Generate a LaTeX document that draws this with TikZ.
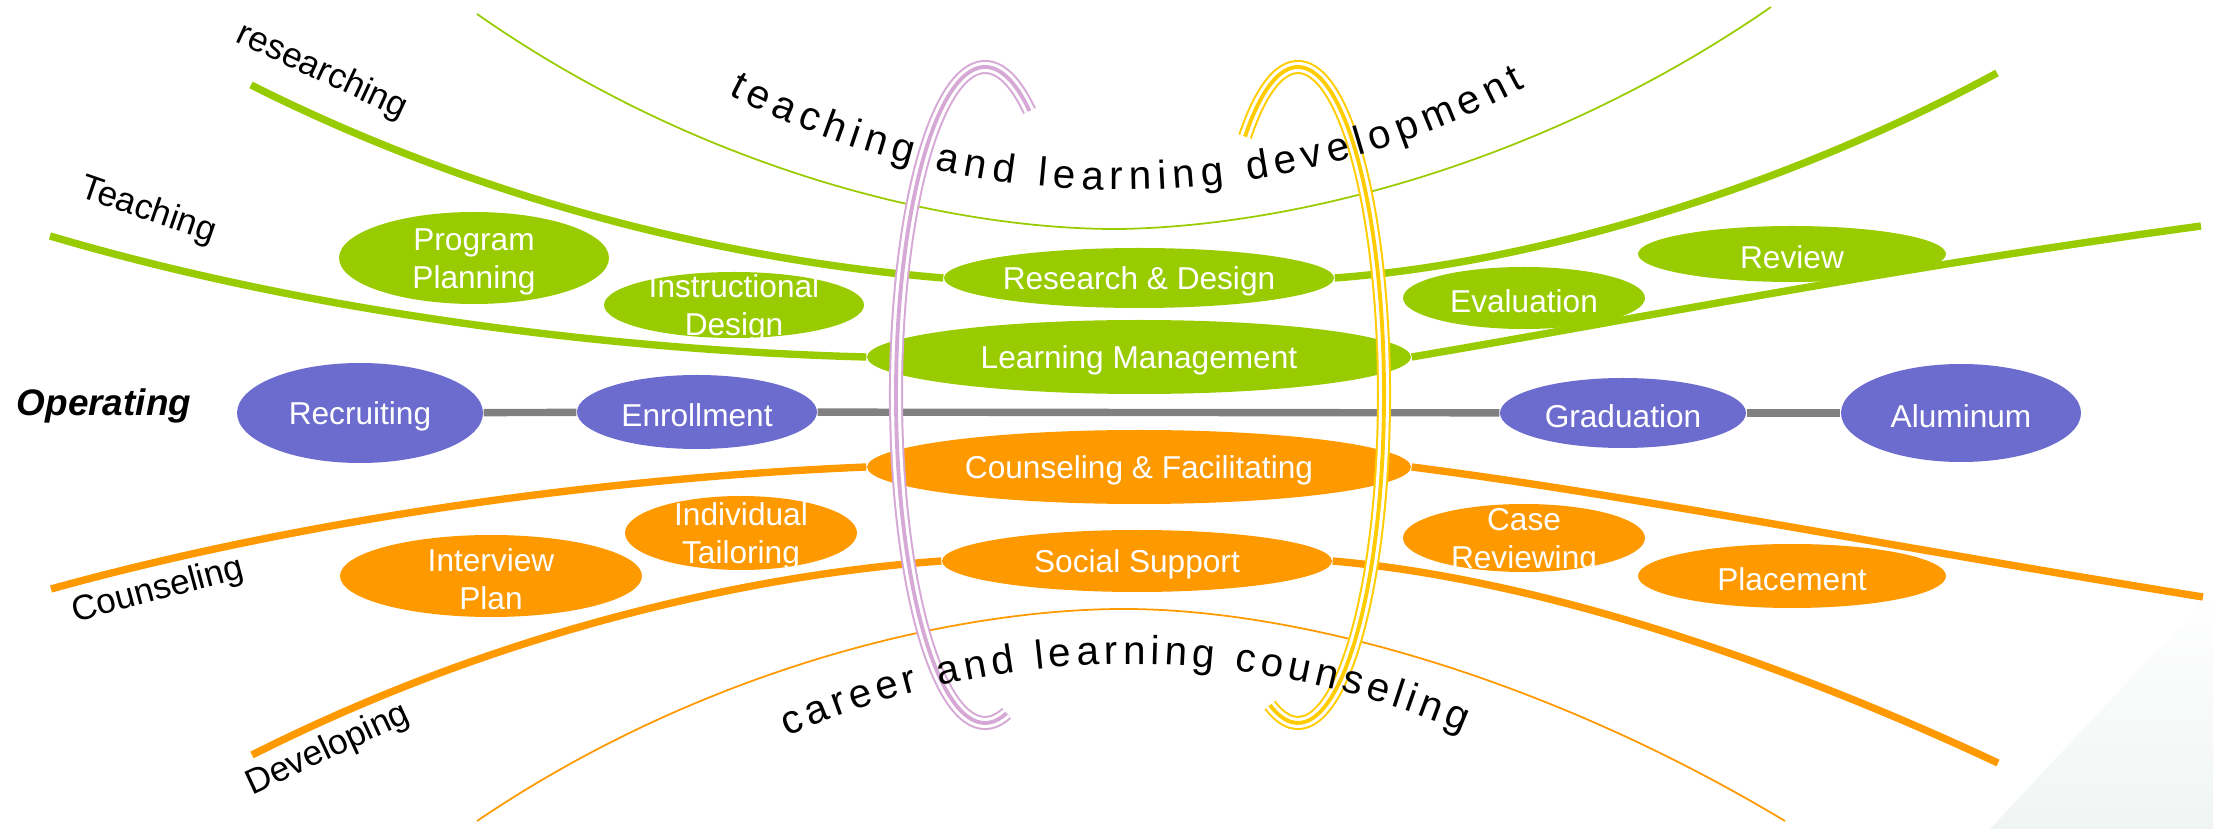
\documentclass[tikz,border=0pt]{standalone}
\usepackage{fontspec}
\setmainfont{Liberation Sans}
\usepackage{tikz}
\usetikzlibrary{shapes.geometric,decorations.text}

\definecolor{leafgreen}{RGB}{153,204,0}
\definecolor{amber}{RGB}{255,153,0}
\definecolor{opblue}{RGB}{108,108,206}
\definecolor{ringpink}{RGB}{214,168,214}
\definecolor{ringgold}{RGB}{255,204,0}
\definecolor{railgray}{RGB}{128,128,128}
\definecolor{bgtint}{RGB}{240,245,243}

\newcommand{\arcfont}{\fontsize{11.5}{13}\selectfont}

\begin{document}
\begin{tikzpicture}[
		blob/.style={ellipse, inner sep=0pt, draw=none},
		inblob/.style={text=white, align=center, inner sep=0pt, yshift=-1pt, font=\fontsize{9}{10.8}\selectfont},
		tag/.style={font=\fontsize{10}{12}\selectfont},
		thickline/.style={line width=2.1pt},
		thinarc/.style={line width=0.5pt},
		ring/.style={preaction={draw=#1, line width=4pt}, draw=white, line width=2.85pt, postaction={draw=#1, line width=1.1pt}}
	]
			\useasboundingbox (0,0) rectangle (22.13,-8.29);
			\shade[top color=white, bottom color=bgtint] (19.9,-8.29) -- (22.13,-5.9) -- (22.13,-8.29) -- cycle;
			% thin arcs
			\draw[thinarc, leafgreen] (4.77,-0.14) .. controls (7.0,-1.70) and (9.5,-2.30) .. (11.20,-2.29) .. controls (13.0,-2.26) and (15.5,-1.60) .. (17.71,-0.07);
			\draw[thinarc, amber] (4.77,-8.21) .. controls (7.0,-6.70) and (9.5,-6.10) .. (11.20,-6.09) .. controls (13.0,-6.08) and (15.5,-6.80) .. (17.85,-8.21);
			% ellipses
			\node[blob, fill=leafgreen, minimum width=2.70cm, minimum height=0.92cm, label={[inblob]center:Program\\Planning}] (pp) at (4.74,-2.58) {};
			\node[blob, fill=leafgreen, minimum width=2.60cm, minimum height=0.66cm, label={[inblob]center:Instructional\\Design}] (id) at (7.34,-3.05) {};
			\node[blob, fill=leafgreen, minimum width=3.90cm, minimum height=0.60cm, label={[inblob]center:Research \& Design}] (rd) at (11.39,-2.78) {};
			\node[blob, fill=leafgreen, minimum width=5.44cm, minimum height=0.74cm, label={[inblob]center:Learning Management}] (lm) at (11.39,-3.57) {};
			\node[blob, fill=leafgreen, minimum width=2.42cm, minimum height=0.62cm, label={[inblob]center:Evaluation}] (ev) at (15.24,-2.98) {};
			\node[blob, fill=leafgreen, minimum width=3.08cm, minimum height=0.56cm, label={[inblob]center:Review}] (rv) at (17.92,-2.54) {};
			\node[blob, fill=opblue, minimum width=2.46cm, minimum height=1.00cm, label={[inblob]center:Recruiting}] (rec) at (3.60,-4.13) {};
			\node[blob, fill=opblue, minimum width=2.40cm, minimum height=0.74cm, label={[inblob]center:Enrollment}] (enr) at (6.97,-4.12) {};
			\node[blob, fill=opblue, minimum width=2.46cm, minimum height=0.70cm, label={[inblob]center:Graduation}] (grd) at (16.23,-4.13) {};
			\node[blob, fill=opblue, minimum width=2.40cm, minimum height=0.98cm, label={[inblob]center:Aluminum}] (alm) at (19.61,-4.13) {};
			\node[blob, fill=amber, minimum width=5.44cm, minimum height=0.74cm, label={[inblob]center:Counseling \& Facilitating}] (cf) at (11.39,-4.67) {};
			\node[blob, fill=amber, minimum width=3.90cm, minimum height=0.62cm, label={[inblob]center:Social Support}] (ss) at (11.37,-5.61) {};
			\node[blob, fill=amber, minimum width=2.32cm, minimum height=0.74cm, label={[inblob]center:Individual\\Tailoring}] (it) at (7.41,-5.33) {};
			\node[blob, fill=amber, minimum width=3.02cm, minimum height=0.82cm, label={[inblob]center:Interview\\Plan}] (ip) at (4.91,-5.76) {};
			\node[blob, fill=amber, minimum width=2.42cm, minimum height=0.68cm, label={[inblob]center:Case\\Reviewing}] (cr) at (15.24,-5.38) {};
			\node[blob, fill=amber, minimum width=3.08cm, minimum height=0.64cm, label={[inblob]center:Placement}] (pl) at (17.92,-5.76) {};
			% free ends of the strands
			\coordinate (resL) at (2.51,-0.85);
			\coordinate (resR) at (19.97,-0.73);
			\coordinate (teaL) at (0.50,-2.36);
			\coordinate (teaR) at (22.01,-2.26);
			\coordinate (couL) at (0.51,-5.89);
			\coordinate (couR) at (22.03,-5.97);
			\coordinate (devL) at (2.52,-7.55);
			\coordinate (devR) at (19.98,-7.63);
			\draw[thickline, leafgreen] (resL) .. controls (5.0,-2.10) and (7.5,-2.62) .. (rd.west);
			\draw[thickline, leafgreen] (rd.east) .. controls (15.5,-2.62) and (18.0,-1.80) .. (resR);
			\draw[thickline, leafgreen] (teaL) .. controls (3.0,-3.10) and (6.0,-3.50) .. (lm.west);
			\draw[thickline, leafgreen] (lm.east) .. controls (16.3,-3.20) and (18.8,-2.70) .. (teaR);
			\draw[thickline, amber] (couL) .. controls (3.0,-5.20) and (6.0,-4.78) .. (cf.west);
			\draw[thickline, amber] (cf.east) .. controls (16.3,-4.95) and (18.8,-5.45) .. (couR);
			\draw[thickline, amber] (devL) .. controls (5.0,-6.30) and (7.5,-5.75) .. (ss.west);
			\draw[thickline, amber] (ss.east) .. controls (15.5,-5.80) and (18.0,-6.70) .. (devR);
			\draw[line width=2.1pt, railgray] (rec) -- (enr);
			\draw[line width=2.1pt, railgray] (enr) -- (grd);
			\draw[line width=2.1pt, railgray] (grd) -- (alm);
			% rings
			\coordinate (pinkc) at (9.85,-3.95);
			\coordinate (goldc) at (12.98,-3.95);
			\draw[ring=ringpink] (pinkc) ++(60:0.89 and 3.28) arc[start angle=60, end angle=284, x radius=0.89, y radius=3.28];
			\draw[ring=ringgold] (goldc) ++(128:0.86 and 3.28) arc[start angle=128, end angle=-109, x radius=0.86, y radius=3.28];
			% labels
			\node[tag, rotate=-25] (researching) at (3.22,-0.72) {researching};
			\node[tag, rotate=-19] (teaching) at (1.48,-2.11) {Teaching};
			\node[tag, rotate=15] (counseling) at (1.58,-5.91) {Counseling};
			\node[tag, rotate=25] (developing) at (3.28,-7.50) {Developing};
			\node[font=\fontsize{10.5}{12}\selectfont\bfseries\itshape] (operating) at (1.04,-4.06) {Operating};
			% curved titles
			\coordinate (topc) at (11.20,6.59);
			\coordinate (botc) at (11.30,-15.09);
			\path[decorate, decoration={text along path, text align={fit to path}, text={|\arcfont|teaching and learning development}}] (topc) ++(242.5:8.49) arc[start angle=242.5, end angle=298.5, radius=8.49];
			\path[decorate, decoration={text along path, text align={fit to path}, text={|\arcfont|career and learning counseling}}] (botc) ++(113.9:8.45) arc[start angle=113.9, end angle=66.8, radius=8.45];
	\end{tikzpicture}
\end{document}
